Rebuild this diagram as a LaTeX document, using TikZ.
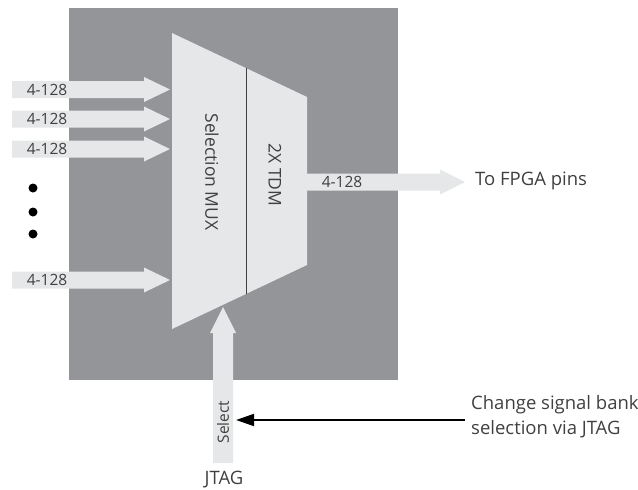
\documentclass[tikz,border=0pt]{standalone}
\usepackage{fontspec}
\setmainfont{Open Sans}
\usetikzlibrary{arrows.meta}
\definecolor{boxgray}{HTML}{939598}
\definecolor{pale}{HTML}{E6E7E8}
\definecolor{txt}{HTML}{404040}
\tikzset{
  lbl/.style={font=\fontsize{15.5}{20}\selectfont, text=txt, inner sep=0pt},
  blocklbl/.style={font=\fontsize{17.5}{20}\selectfont, text=txt, inner sep=0pt},
  sidelbl/.style={font=\fontsize{18.5}{25}\selectfont, text=txt, inner sep=0pt},
  pointer/.style={line width=1.8pt, -{Triangle[length=18pt,width=12pt]}}
}
% fat horizontal arrow: start, head start, tip, centre line
\newcommand{\fatarrow}[4]{\fill[pale] (#1,#4-8.5) -- (#2,#4-8.5) -- (#2,#4-12.5) -- (#3,#4) -- (#2,#4+12.5) -- (#2,#4+8.5) -- (#1,#4+8.5) -- cycle;}
\begin{document}
\begin{tikzpicture}[x=1pt,y=-1pt]
        \useasboundingbox (0,0) rectangle (638,490);
        % FPGA box
        \fill[boxgray] (69,8) rectangle (398,380);
        % mux + tdm
        \fill[pale] (172,33) -- (307,97) -- (307,265) -- (172,329) -- cycle;
        \draw[line width=1pt, txt] (246,68) -- (246,294);
        \node[blocklbl, rotate=-90] (mux) at (212,172) {Selection MUX};
        \node[blocklbl, rotate=-90] (tdm) at (275,175) {2X TDM};
        % inputs
        \foreach \y [count=\i] in {89.5,119,149,280} {
            \fatarrow{12}{144}{170}{\y}
            \node[lbl] (in\i) at (47,\y) {4-128};
        }
        \foreach \y in {188,212,234}
            \fill (33,\y) circle (4.5);
        % output
        \fatarrow{307}{440}{465}{182}
        \node[lbl] (out) at (342,182) {4-128};
        \node[sidelbl, anchor=west] (fpga) at (475,181) {To FPGA pins};
        % select
        \fill[pale] (213,463) -- (213,333) -- (210,333) -- (223,307) -- (236,333) -- (233,333) -- (233,463) -- cycle;
        \node[lbl, rotate=90] (sel) at (223,422) {Select};
        \node[sidelbl] (jtag) at (224,480) {JTAG};
        \node[sidelbl, anchor=west, align=left] (note) at (471,417) {Change signal bank\\selection via JTAG};
        \coordinate (selin) at (236,420);
        \draw[pointer] ([xshift=-6pt]note.west |- selin) -- (selin);
    \end{tikzpicture}
\end{document}
